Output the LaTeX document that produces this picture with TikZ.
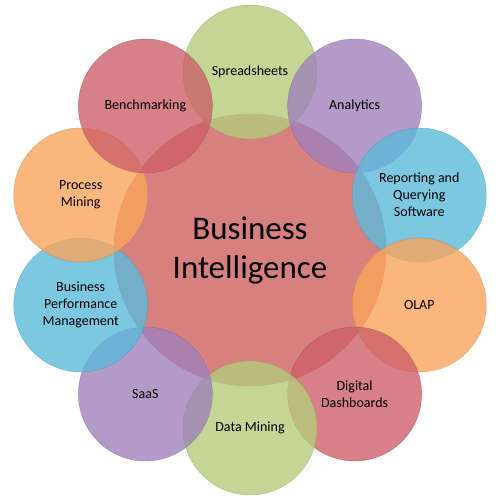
\documentclass[tikz,border=0pt]{standalone}
\usepackage{fontspec}
\setmainfont{Carlito}
\definecolor{hubpink}{RGB}{215,128,128}
\definecolor{bired}{RGB}{205,96,105}
\definecolor{bigreen}{RGB}{180,204,124}
\definecolor{bipurple}{RGB}{159,130,186}
\definecolor{biblue}{RGB}{92,186,218}
\definecolor{biorange}{RGB}{249,165,93}
\begin{document}
\begin{tikzpicture}[x=1pt,y=1pt,
  hub/.style={circle,inner sep=0,minimum size=272pt,fill=hubpink,draw=hubpink!85!black,align=center,font=\fontsize{33}{39}\selectfont},
  petal/.style={circle,inner sep=0,minimum size=134pt,fill=#1,fill opacity=.8,text opacity=1,draw=#1!80!black,draw opacity=.6,align=center,font=\fontsize{14}{17}\selectfont}]
\useasboundingbox (-250,-250) rectangle (249,250);
\node[hub] (bi) at (0,0) {Business\\Intelligence};
\foreach \a/\n/\t/\c in {90/sheets/Spreadsheets/bigreen, 54/analytics/Analytics/bipurple,
  18/reporting/Reporting and\\Querying\\Software/biblue, -18/olap/OLAP/biorange,
  -54/dashboards/Digital\\Dashboards/bired, -90/mining/Data Mining/bigreen,
  -126/saas/SaaS/bipurple, -162/bpm/Business\\Performance\\Management/biblue,
  162/process/Process\\Mining/biorange, 126/bench/Benchmarking/bired}
  \node[petal=\c] (\n) at (\a:178) {\t};
\end{tikzpicture}
\end{document}
